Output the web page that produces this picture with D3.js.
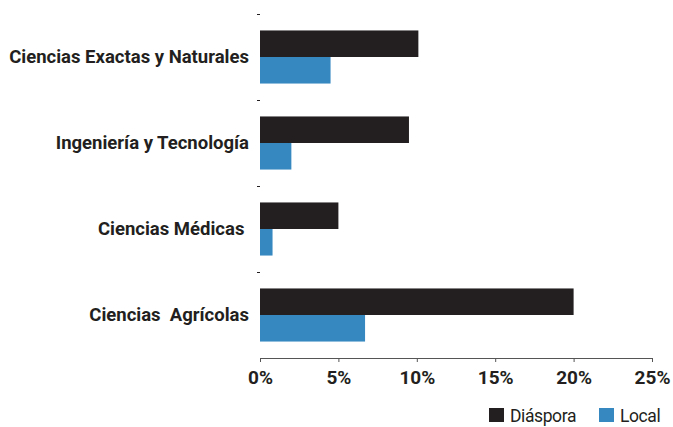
<!DOCTYPE html>
<html><head><meta charset="utf-8">
<script src="https://cdn.jsdelivr.net/npm/d3@7"></script>
<style>
body{margin:0;background:#fff;}
svg text{font-family:Roboto,"Liberation Sans",Arial,sans-serif;}
</style></head>
<body><svg id="c" width="673" height="427"></svg>
<script>
const categories = ["Ciencias Exactas y Naturales","Ingeniería y Tecnología","Ciencias Médicas ","Ciencias  Agrícolas"];
const seriesNames = ["Diáspora","Local"];
const diaspora = [10.1, 9.5, 5.0, 20.0];
const local = [4.5, 2.0, 0.8, 6.7];
const xTicks = [0,5,10,15,20,25];
const colors = ["#231f20","#3688c1"];

const svg = d3.select("#c");
const m = {left:260, right:652, top:14, bottom:358};
const x = d3.scaleLinear().domain([0,25]).range([m.left, m.right]);
const y = d3.scaleBand().domain(categories).range([m.top, m.bottom]);
const yi = d3.scaleBand().domain(seriesNames).range([0, y.bandwidth()]).paddingOuter(0.62).paddingInner(0);

const data = categories.map((c,i)=>({cat:c, vals:[diaspora[i], local[i]]}));

const g = svg.append("g");
data.forEach(d=>{
  d.vals.forEach((v,j)=>{
    g.append("rect")
      .attr("x", x(0))
      .attr("y", y(d.cat)+yi(seriesNames[j]))
      .attr("width", x(v)-x(0))
      .attr("height", yi.bandwidth())
      .attr("fill", colors[j]);
  });
});

// y band boundary ticks
const bounds = categories.map(c=>y(c));
svg.selectAll(".yt").data(bounds).enter().append("line")
  .attr("x1", m.left-3).attr("x2", m.left)
  .attr("y1", d=>d+0.5).attr("y2", d=>d+0.5)
  .attr("stroke","#231f20").attr("stroke-width",1);

// category labels
svg.selectAll(".cl").data(categories).enter().append("text")
  .attr("x", 249).attr("y", d=>y(d)+y.bandwidth()/2)
  .attr("text-anchor","end").attr("dominant-baseline","central")
  .attr("xml:space","preserve").style("white-space","pre")
  .attr("font-size",18.5).attr("font-weight","bold").attr("fill","#231f20")
  .text(d=>d);

// x axis
const xa = svg.append("g").attr("transform",`translate(0,${m.bottom})`)
  .call(d3.axisBottom(x).tickValues(xTicks).tickFormat(d=>d+"%").tickSize(4).tickSizeOuter(0));
xa.select(".domain").attr("stroke","#555").attr("stroke-width",1.2);
xa.selectAll(".tick line").attr("stroke","#555");
xa.selectAll("text").attr("font-size",19).attr("font-weight","bold").attr("fill","#231f20")
  .attr("dy","0").attr("y",26)
  .style("font-family",'Roboto,"Liberation Sans",Arial,sans-serif');

// legend
const leg = svg.append("g");
const lx = [489, 599];
seriesNames.forEach((s,j)=>{
  leg.append("rect").attr("x",lx[j]).attr("y",408).attr("width",15).attr("height",14).attr("fill",colors[j]);
  leg.append("text").attr("x",lx[j]+21).attr("y",422).attr("font-size",17.5).attr("fill","#231f20")
    .attr("letter-spacing","-0.4").text(s);
});
</script></body></html>
